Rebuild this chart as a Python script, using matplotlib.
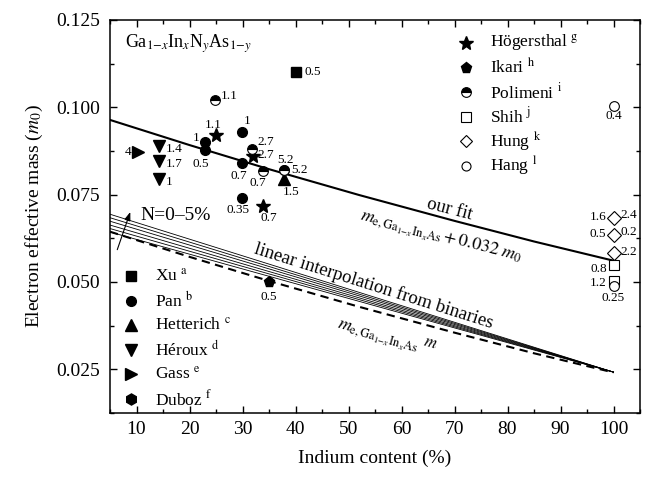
import numpy as np
import matplotlib
matplotlib.use('Agg')
import matplotlib.pyplot as plt

plt.rcParams['font.family'] = ['Liberation Serif', 'DejaVu Serif']
plt.rcParams['mathtext.fontset'] = 'stix'

# ---------------- data ----------------
indium_curve = [5, 20, 35, 52, 70, 85, 100]
me_gainas = [0.0644, 0.0572, 0.0503, 0.0429, 0.0355, 0.0296, 0.0241]
fit_offset = 0.032
fan_x = [5, 100]
fan_left = [0.0643, 0.0653, 0.0663, 0.0674, 0.0684, 0.0694]
fan_right = 0.0242

xu_x = [40]; xu_y = [0.1102]; xu_lab = ['0.5']
pan_x = [22.9, 22.9, 29.9, 29.9, 29.9]
pan_y = [0.0901, 0.0878, 0.0929, 0.0840, 0.0740]
pan_lab = ['1', '0.5', '1', '0.7', '0.35']
hett_x = [37.9]; hett_y = [0.0794]; hett_lab = ['1.5']
herx_x = [14.2, 14.2, 14.2]; herx_y = [0.0889, 0.0845, 0.0796]; herx_lab = ['1.4', '1.7', '1']
gass_x = [10.3]; gass_y = [0.0872]; gass_lab = ['4']
hog_x = [25.0, 31.9, 33.9]; hog_y = [0.0920, 0.0861, 0.0718]; hog_lab = ['1.1', '2.7', '0.7']
ikari_x = [35.0]; ikari_y = [0.0500]; ikari_lab = ['0.5']
pol_x = [24.9, 31.8, 33.9, 37.9, 37.9]
pol_y = [0.1021, 0.0882, 0.0819, 0.0822, 0.0822]
pol_lab = ['1.1', '2.7', '0.7', '5.2', '5.2']
shih_x = [100, 100]; shih_y = [0.0549, 0.0503]; shih_lab = ['0.8', '1.2']
hung_x = [100, 100, 100]; hung_y = [0.0682, 0.0634, 0.0583]
hung_lab_left = ['1.6', '0.5', '']
hung_lab_right = ['2.4', '0.2', '2.2']
hang_x = [100, 100]; hang_y = [0.1004, 0.0488]; hang_lab = ['0.4', '0.25']

x_ticks = [10, 20, 30, 40, 50, 60, 70, 80, 90, 100]
y_ticks = [0.025, 0.050, 0.075, 0.100, 0.125]

# ---------------- figure ----------------
fig = plt.figure(figsize=(6.46, 4.8), dpi=100)
ax = fig.add_axes([110/646, 1-413/480, 530/646, 393/480])
ax.set_xlim(5, 105)
ax.set_ylim(0.0125, 0.125)

me = np.array(me_gainas)
ax.plot(indium_curve, me + fit_offset, color='k', lw=1.5)
ax.plot(indium_curve, me, color='k', lw=1.5, ls=(0, (4, 2.6)))
for yl in fan_left:
    ax.plot(fan_x, [yl, fan_right], color='k', lw=0.6)

MS = 7
def pts(xs, ys, marker, ms=MS, **kw):
    style = dict(color='k', mfc='k', mec='k', ls='none', marker=marker, ms=ms, clip_on=False)
    style.update(kw)
    ax.plot(xs, ys, **style)

open_kw = dict(mfc='white', mew=0.8)
pts(xu_x, xu_y, 's', 6.5)
pts(pan_x, pan_y, 'o', 7)
pts(hett_x, hett_y, '^', 8)
pts(herx_x, herx_y, 'v', 8)
pts(gass_x, gass_y, '>', 8)
pts(hog_x, hog_y, '*', 10)
pts(ikari_x, ikari_y, 'p', 8)
pts(pol_x, pol_y, 'o', 7, fillstyle='top', mfc='k', mfcalt='white', mew=0.8)
pts(shih_x, shih_y, 's', 7, **open_kw)
pts(hung_x, hung_y, 'D', 7, **open_kw)
pts(hang_x, hang_y, 'o', 7, **open_kw)

LFS = 9.5
def labels(xs, ys, labs, offs):
    for x, y, t, (dx, dy, ha) in zip(xs, ys, labs, offs):
        if t:
            ax.annotate(t, (x, y), xytext=(dx, dy), textcoords='offset pixels',
                        ha=ha, va='center', fontsize=LFS, annotation_clip=False)

labels(xu_x, xu_y, xu_lab, [(9, 0, 'left')])
labels(pan_x, pan_y, pan_lab, [(-5, 4, 'right'), (-4, -14, 'center'), (5, 11, 'center'),
                               (-3, -13, 'center'), (-4, -12, 'center')])
labels(hett_x, hett_y, hett_lab, [(7, -13, 'center')])
labels(herx_x, herx_y, herx_lab, [(7, -3, 'left')] * 3)
labels(gass_x, gass_y, gass_lab, [(-7, 0, 'right')])
labels(hog_x, hog_y, hog_lab, [(-3, 10, 'center'), (5, 1, 'left'), (6, -12, 'center')])
labels(ikari_x, ikari_y, ikari_lab, [(0, -15, 'center')])
labels(pol_x, pol_y, pol_lab, [(5, 4, 'left'), (5, 7, 'left'), (-5, -12, 'center'),
                               (1, 10, 'center'), (7, 0, 'left')])
labels(shih_x, shih_y, shih_lab, [(-15, -4, 'center'), (-7, -2, 'right')])
labels(hung_x, hung_y, hung_lab_left, [(-7, 1, 'right')] * 3)
labels(hung_x, hung_y, hung_lab_right, [(7, 3, 'left'), (7, 3, 'left'), (7, 1, 'left')])
labels(hang_x, hang_y, hang_lab, [(0, -10, 'center'), (0, -12, 'center')])

# ---------------- legends (manual) ----------------
left_leg = [('s', 6.5, dict(), r'Xu $^{\mathrm{a}}$'),
            ('o', 7, dict(), r'Pan $^{\mathrm{b}}$'),
            ('^', 8, dict(), r'Hetterich $^{\mathrm{c}}$'),
            ('v', 8, dict(), r'Héroux $^{\mathrm{d}}$'),
            ('>', 8, dict(), r'Gass $^{\mathrm{e}}$'),
            ('h', 8, dict(), r'Duboz $^{\mathrm{f}}$')]
right_leg = [('*', 10, dict(), r'Högersthal $^{\mathrm{g}}$'),
             ('p', 8, dict(), r'Ikari $^{\mathrm{h}}$'),
             ('o', 7, dict(fillstyle='top', mfcalt='white', mew=0.8), r'Polimeni $^{\mathrm{i}}$'),
             ('s', 6.5, dict(mfc='white', mew=0.8), r'Shih $^{\mathrm{j}}$'),
             ('D', 6.5, dict(mfc='white', mew=0.8), r'Hung $^{\mathrm{k}}$'),
             ('o', 6.5, dict(mfc='white', mew=0.8), r'Hang $^{\mathrm{l}}$')]

def draw_legend(entries, xm, xt, y0, dy):
    for i, (m, ms, kw, lab) in enumerate(entries):
        y = y0 - i * dy
        style = dict(color='k', mfc='k', mec='k', ls='none', marker=m, ms=ms)
        style.update(kw)
        ax.plot([xm], [y], transform=ax.transAxes, clip_on=False, **style)
        ax.text(xt, y, lab, transform=ax.transAxes, ha='left', va='center', fontsize=12.5)

draw_legend(left_leg, 0.0396, 0.085, (413 - 276) / 393, 24.6 / 393)
draw_legend(right_leg, 0.672, 0.717, (413 - 43) / 393, 24.5 / 393)

# ---------------- texts ----------------
ax.text(0.028, 0.939, r'Ga$_{1\mathrm{-}x}$In$_{x}$N$_{y}$As$_{1\mathrm{-}y}$',
        transform=ax.transAxes, ha='left', va='center', fontsize=13)
ax.text(0.640, 0.518, 'our fit', transform=ax.transAxes, ha='center', va='center',
        fontsize=13.5, rotation=-14.5)
ax.text(0.6245, 0.449, r'$m_{\mathrm{e,Ga}_{1\mathrm{-}x}\mathrm{In}_x\mathrm{As}} + 0.032\ m_0$',
        transform=ax.transAxes, ha='center', va='center', fontsize=13, rotation=-14.5)
ax.text(0.497, 0.323, 'linear interpolation from binaries', transform=ax.transAxes,
        ha='center', va='center', fontsize=13.5, rotation=-17.5)
ax.text(0.506, 0.194, r'$m_{\mathrm{e,Ga}_{1\mathrm{-}x}\mathrm{In}_x\mathrm{As}}$',
        transform=ax.transAxes, ha='center', va='center', fontsize=13, rotation=-16)
ax.text(0.604, 0.179, r'$m$', transform=ax.transAxes, ha='center', va='center',
        fontsize=12, rotation=-16)
ax.text(0.0566, 0.5026, 'N=0–5%', transform=ax.transAxes, ha='left', va='center', fontsize=14)
ax.annotate('', xy=(9.0, 0.0708), xytext=(6.2, 0.0585),
            arrowprops=dict(arrowstyle='-|>,head_length=0.5,head_width=0.18', color='k', lw=0.8))

# ---------------- axes style ----------------
ax.set_xticks(x_ticks)
ax.set_xticks([v + 5 for v in [0] + x_ticks], minor=True)
ax.set_yticks(y_ticks)
ax.set_yticks([0.0125 + 0.025 * i for i in range(5)], minor=True)
ax.set_yticklabels([f'{v:.3f}' for v in y_ticks])
ax.tick_params(which='both', direction='in', top=True, right=True, labelsize=14, width=1)
ax.tick_params(which='major', length=5)
ax.tick_params(which='minor', length=3)
ax.tick_params(axis='x', pad=6)
ax.tick_params(axis='y', pad=7)
for s in ax.spines.values():
    s.set_linewidth(1.1)
ax.set_xlabel('Indium content (%)', fontsize=14, labelpad=8)
ax.set_ylabel(r'Electron effective mass ($m_0$)', fontsize=14, labelpad=8)

fig.savefig('out.png', dpi=100)
